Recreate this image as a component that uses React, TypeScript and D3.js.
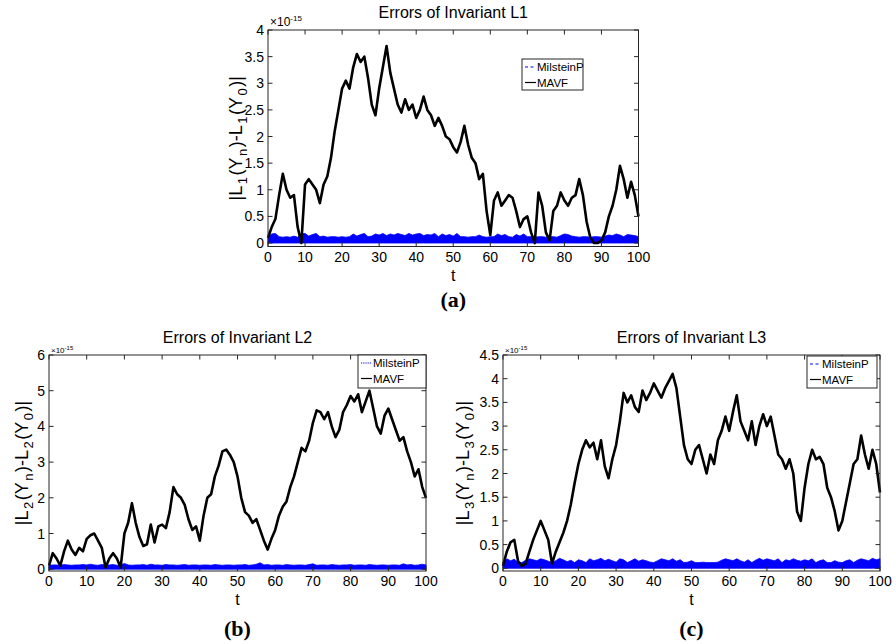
import React from "react";
import * as d3 from "d3";

// time grid: one sample per unit of t
const tGrid = d3.range(0, 101);

const xTicks = [0, 10, 20, 30, 40, 50, 60, 70, 80, 90, 100];
const yTicksA = [0, 0.5, 1, 1.5, 2, 2.5, 3, 3.5, 4];
const yTicksB = [0, 1, 2, 3, 4, 5, 6];
const yTicksC = [0, 0.5, 1, 1.5, 2, 2.5, 3, 3.5, 4, 4.5];

const seriesNames = ["MilsteinP", "MAVF"];

// MAVF invariant errors (x1e-15), read at t = 0..100
const mavfA = [
  0.1, 0.3, 0.45, 0.9, 1.3, 1.0, 0.85, 0.9, 0.3, 0.0,
  1.1, 1.2, 1.1, 1.0, 0.75, 1.1, 1.25, 1.6, 2.1, 2.5,
  2.9, 3.05, 2.9, 3.3, 3.55, 3.4, 3.5, 3.1, 2.6, 2.4,
  2.9, 3.3, 3.7, 3.2, 2.9, 2.6, 2.45, 2.7, 2.5, 2.6,
  2.35, 2.5, 2.75, 2.5, 2.4, 2.2, 2.35, 2.2, 2.0, 1.95,
  1.8, 1.7, 1.9, 2.2, 1.85, 1.6, 1.5, 1.2, 1.3, 0.6,
  0.15, 0.8, 0.95, 0.7, 0.8, 0.9, 0.85, 0.6, 0.3, 0.45,
  0.5, 0.2, 0.0, 0.95, 0.7, 0.2, 0.05, 0.6, 0.7, 0.95,
  0.8, 0.7, 0.85, 0.9, 1.2, 0.9, 0.4, 0.1, 0.0, 0.0,
  0.05, 0.2, 0.5, 0.7, 1.0, 1.45, 1.2, 0.85, 1.15, 0.9,
  0.5,
];
const mavfB = [
  0.1, 0.45, 0.3, 0.1, 0.5, 0.8, 0.55, 0.4, 0.6, 0.5,
  0.85, 0.95, 1.0, 0.8, 0.6, 0.05, 0.3, 0.45, 0.3, 0.05,
  1.0, 1.3, 1.85, 1.3, 0.9, 0.65, 0.7, 1.25, 0.75, 1.2,
  1.25, 1.15, 1.6, 2.3, 2.1, 2.0, 1.8, 1.4, 1.1, 1.2,
  0.8, 1.5, 2.0, 2.1, 2.6, 2.9, 3.3, 3.35, 3.2, 3.0,
  2.6, 2.0, 1.6, 1.5, 1.3, 1.4, 1.1, 0.8, 0.55, 0.85,
  1.1, 1.5, 1.75, 1.9, 2.3, 2.6, 3.0, 3.4, 3.3, 3.6,
  4.1, 4.45, 4.4, 4.2, 4.4, 4.0, 3.7, 3.9, 4.4, 4.6,
  4.85, 4.7, 4.9, 4.4, 4.7, 5.0, 4.5, 4.0, 3.8, 4.3,
  4.5, 4.2, 3.9, 3.6, 3.7, 3.3, 3.0, 2.6, 2.8, 2.3,
  2.0,
];
const mavfC = [
  0.05, 0.35, 0.55, 0.6, 0.15, 0.05, 0.1, 0.35, 0.6, 0.8,
  1.0, 0.8, 0.6, 0.1, 0.35, 0.55, 0.75, 1.0, 1.35, 1.8,
  2.2, 2.5, 2.7, 2.55, 2.65, 2.3, 2.7, 2.15, 1.9, 2.3,
  2.6, 3.1, 3.7, 3.5, 3.65, 3.4, 3.3, 3.75, 3.55, 3.7,
  3.9, 3.75, 3.6, 3.8, 3.95, 4.1, 3.8, 3.2, 2.6, 2.3,
  2.2, 2.5, 2.6, 2.3, 2.0, 2.4, 2.2, 2.7, 2.9, 3.2,
  2.9, 3.3, 3.65, 3.1, 2.9, 2.7, 3.1, 2.6, 3.0, 3.25,
  3.0, 3.2, 2.8, 2.4, 2.3, 2.1, 2.3, 2.0, 1.2, 1.0,
  1.7, 2.2, 2.5, 2.3, 2.35, 2.2, 1.7, 1.5, 1.2, 0.8,
  1.0, 1.4, 1.8, 2.2, 2.3, 2.8, 2.4, 2.1, 2.5, 2.2,
  1.6,
];

// MilsteinP band tops (x1e-15), read at t = 0..100
const milA = [
  0.12, 0.17, 0.18, 0.12, 0.11, 0.12, 0.11, 0.13, 0.11, 0.17,
  0.18, 0.13, 0.16, 0.18, 0.12, 0.13, 0.11, 0.12, 0.12, 0.11,
  0.12, 0.11, 0.12, 0.17, 0.13, 0.16, 0.18, 0.12, 0.13, 0.17,
  0.15, 0.18, 0.14, 0.17, 0.15, 0.18, 0.16, 0.14, 0.18, 0.15,
  0.17, 0.18, 0.14, 0.16, 0.15, 0.18, 0.12, 0.17, 0.14, 0.16,
  0.13, 0.18, 0.12, 0.12, 0.11, 0.12, 0.12, 0.15, 0.12, 0.11,
  0.12, 0.12, 0.17, 0.14, 0.16, 0.12, 0.11, 0.16, 0.13, 0.17,
  0.12, 0.12, 0.11, 0.12, 0.12, 0.11, 0.12, 0.12, 0.11, 0.14,
  0.17, 0.16, 0.13, 0.12, 0.11, 0.12, 0.12, 0.11, 0.12, 0.12,
  0.11, 0.13, 0.15, 0.14, 0.17, 0.15, 0.12, 0.16, 0.15, 0.14,
  0.12,
];
const milB = [
  0.11, 0.12, 0.12, 0.11, 0.13, 0.12, 0.11, 0.12, 0.12, 0.13,
  0.12, 0.14, 0.12, 0.11, 0.13, 0.12, 0.12, 0.13, 0.11, 0.12,
  0.16, 0.12, 0.11, 0.12, 0.12, 0.13, 0.11, 0.14, 0.12, 0.12,
  0.11, 0.13, 0.12, 0.12, 0.11, 0.12, 0.13, 0.11, 0.12, 0.12,
  0.11, 0.12, 0.12, 0.11, 0.13, 0.12, 0.11, 0.12, 0.12, 0.11,
  0.12, 0.12, 0.13, 0.11, 0.12, 0.14, 0.18, 0.12, 0.13, 0.11,
  0.12, 0.12, 0.11, 0.13, 0.12, 0.11, 0.12, 0.12, 0.11, 0.13,
  0.15, 0.11, 0.12, 0.12, 0.11, 0.13, 0.12, 0.11, 0.12, 0.12,
  0.13, 0.11, 0.12, 0.12, 0.11, 0.13, 0.12, 0.11, 0.12, 0.12,
  0.11, 0.12, 0.12, 0.11, 0.15, 0.12, 0.13, 0.11, 0.12, 0.14,
  0.12,
];
const milC = [
  0.12, 0.2, 0.16, 0.19, 0.13, 0.12, 0.17, 0.2, 0.18, 0.16,
  0.2, 0.18, 0.15, 0.12, 0.16, 0.21, 0.18, 0.14, 0.17, 0.12,
  0.18, 0.16, 0.12, 0.2, 0.16, 0.18, 0.21, 0.16, 0.19, 0.16,
  0.13, 0.2, 0.18, 0.12, 0.16, 0.2, 0.15, 0.18, 0.16, 0.13,
  0.12, 0.16, 0.2, 0.18, 0.16, 0.2, 0.15, 0.18, 0.12, 0.13,
  0.16, 0.12, 0.12, 0.13, 0.12, 0.12, 0.12, 0.13, 0.17, 0.2,
  0.18, 0.16, 0.2, 0.16, 0.13, 0.18, 0.12, 0.17, 0.21, 0.17,
  0.2, 0.18, 0.16, 0.2, 0.12, 0.18, 0.16, 0.2, 0.17, 0.15,
  0.18, 0.16, 0.2, 0.12, 0.16, 0.18, 0.12, 0.12, 0.16, 0.13,
  0.12, 0.16, 0.18, 0.12, 0.17, 0.2, 0.18, 0.16, 0.21, 0.18,
  0.2,
];

const FONT = "'Liberation Sans', Arial, Helvetica, sans-serif";
const AXIS = "#262626";

type PanelProps = {
  title: string;
  idx: string;
  letter: string;
  mavf: number[];
  mil: number[];
  yTicks: number[];
  yMin: number;
  yMax: number;
  left: number;
  right: number;
  top: number;
  bottom: number;
  big: boolean;
  ylabelX: number;
  legend: { x: number; y: number; w: number; h: number; dash: string };
  letterY: number;
};

const Panel = (p: PanelProps) => {
  const x = d3.scaleLinear().domain([0, 100]).range([p.left, p.right]);
  const y = d3.scaleLinear().domain([p.yMin, p.yMax]).range([p.bottom, p.top]);

  const line = d3
    .line<number>()
    .x((d, i) => x(tGrid[i]))
    .y(d => y(d));

  const band = d3
    .area<number>()
    .x((d, i) => x(tGrid[i]))
    .y0(() => y(0))
    .y1(d => y(d));

  const cx = (p.left + p.right) / 2;
  const cy = (p.top + p.bottom) / 2;
  const tick = 4.5;

  const ylabelParts: [string, boolean][] = [
    ["|L", false], [p.idx, true], ["(Y", false], ["n", true],
    [")-L", false], [p.idx, true], ["(Y", false], ["0", true], [")|", false],
  ];

  const lg = p.legend;

  return (
    <g fontFamily={FONT}>
      {/* data */}
      <path d={band(p.mil) || ""} fill="#0000ff" stroke="#0000ff" strokeWidth={0.8} />
      <path d={line(p.mavf) || ""} fill="none" stroke="#000" strokeWidth={2.6} strokeLinejoin="round" />

      {/* box */}
      <rect x={p.left} y={p.top} width={p.right - p.left} height={p.bottom - p.top}
        fill="none" stroke={AXIS} strokeWidth={1} />

      {xTicks.map(t => (
        <g key={"x" + t}>
          <line x1={x(t)} x2={x(t)} y1={p.bottom} y2={p.bottom - tick} stroke={AXIS} />
          <line x1={x(t)} x2={x(t)} y1={p.top} y2={p.top + tick} stroke={AXIS} />
          <text x={x(t)} y={p.bottom + 15} fontSize={14} textAnchor="middle" fill="#000">{t}</text>
        </g>
      ))}
      {p.yTicks.map(v => (
        <g key={"y" + v}>
          <line x1={p.left} x2={p.left + tick} y1={y(v)} y2={y(v)} stroke={AXIS} />
          <line x1={p.right} x2={p.right - tick} y1={y(v)} y2={y(v)} stroke={AXIS} />
          <text x={p.left - 4} y={y(v)} dy="0.36em" fontSize={14} textAnchor="end" fill="#000">{v}</text>
        </g>
      ))}

      {/* exponent */}
      <text x={p.left + 2} y={p.top - (p.big ? 4 : 2)} fontSize={p.big ? 12 : 8} fill="#000">
        ×10<tspan fontSize={p.big ? 8 : 6} dy={p.big ? -5 : -3.5}>-15</tspan>
      </text>

      {/* title and labels */}
      <text x={cx} y={p.top - 12} fontSize={16} textAnchor="middle" fill="#000">{p.title}</text>
      <text x={cx} y={p.bottom + 34} fontSize={16} textAnchor="middle" fill="#000">t</text>
      <text transform={`translate(${p.ylabelX},${cy}) rotate(-90)`} fontSize={18} textAnchor="middle" fill="#000">
        {ylabelParts.map(([s, sub], i) => {
          const prevSub = i > 0 && ylabelParts[i - 1][1];
          const dy = sub ? 5 : prevSub ? -5 : 0;
          return (
            <tspan key={i} fontSize={sub ? 13 : 18} dy={dy} dx={sub || prevSub ? 1.5 : 0}>{s}</tspan>
          );
        })}
      </text>
      <text x={cx} y={p.letterY} fontSize={22} fontWeight="bold" textAnchor="middle"
        fontFamily="'Liberation Serif', 'Times New Roman', serif" fill="#000">{p.letter}</text>

      {/* legend */}
      <rect x={lg.x} y={lg.y} width={lg.w} height={lg.h} fill="#fff" stroke={AXIS} strokeWidth={1} />
      {seriesNames.map((name, i) => {
        const ry = lg.y + 8 + i * 15.5;
        return (
          <g key={name}>
            <line x1={lg.x + 3} x2={lg.x + 14} y1={ry} y2={ry}
              stroke={i === 0 ? "#0000ff" : "#000"} strokeWidth={i === 0 ? 1 : 1.2}
              strokeDasharray={i === 0 ? lg.dash : undefined} />
            <text x={lg.x + 15} y={ry} dy="0.36em" fontSize={11.5} fill="#000">{name}</text>
          </g>
        );
      })}
    </g>
  );
};

export default function App() {
  return (
    <svg width={896} height={644} style={{ display: "block", position: "absolute", left: 0, top: 0 }}>
      <rect width={896} height={644} fill="#fff" />
      <Panel title="Errors of Invariant L1" idx="1" letter="(a)" mavf={mavfA} mil={milA}
        yTicks={yTicksA} yMin={-0.065} yMax={4} left={268} right={638.5} top={30} bottom={246.5}
        big={true} ylabelX={242} letterY={307}
        legend={{ x: 522, y: 59, w: 61, h: 31, dash: "3,2.5" }} />
      <Panel title="Errors of Invariant L2" idx="2" letter="(b)" mavf={mavfB} mil={milB}
        yTicks={yTicksB} yMin={-0.05} yMax={6} left={49} right={426} top={355} bottom={571}
        big={false} ylabelX={28} letterY={636}
        legend={{ x: 358, y: 355, w: 68, h: 33, dash: "1.2,1" }} />
      <Panel title="Errors of Invariant L3" idx="3" letter="(c)" mavf={mavfC} mil={milC}
        yTicks={yTicksC} yMin={-0.057} yMax={4.5} left={503} right={880} top={355} bottom={571}
        big={false} ylabelX={469} letterY={636}
        legend={{ x: 807, y: 356, w: 70, h: 32, dash: "3,2.5" }} />
    </svg>
  );
}
